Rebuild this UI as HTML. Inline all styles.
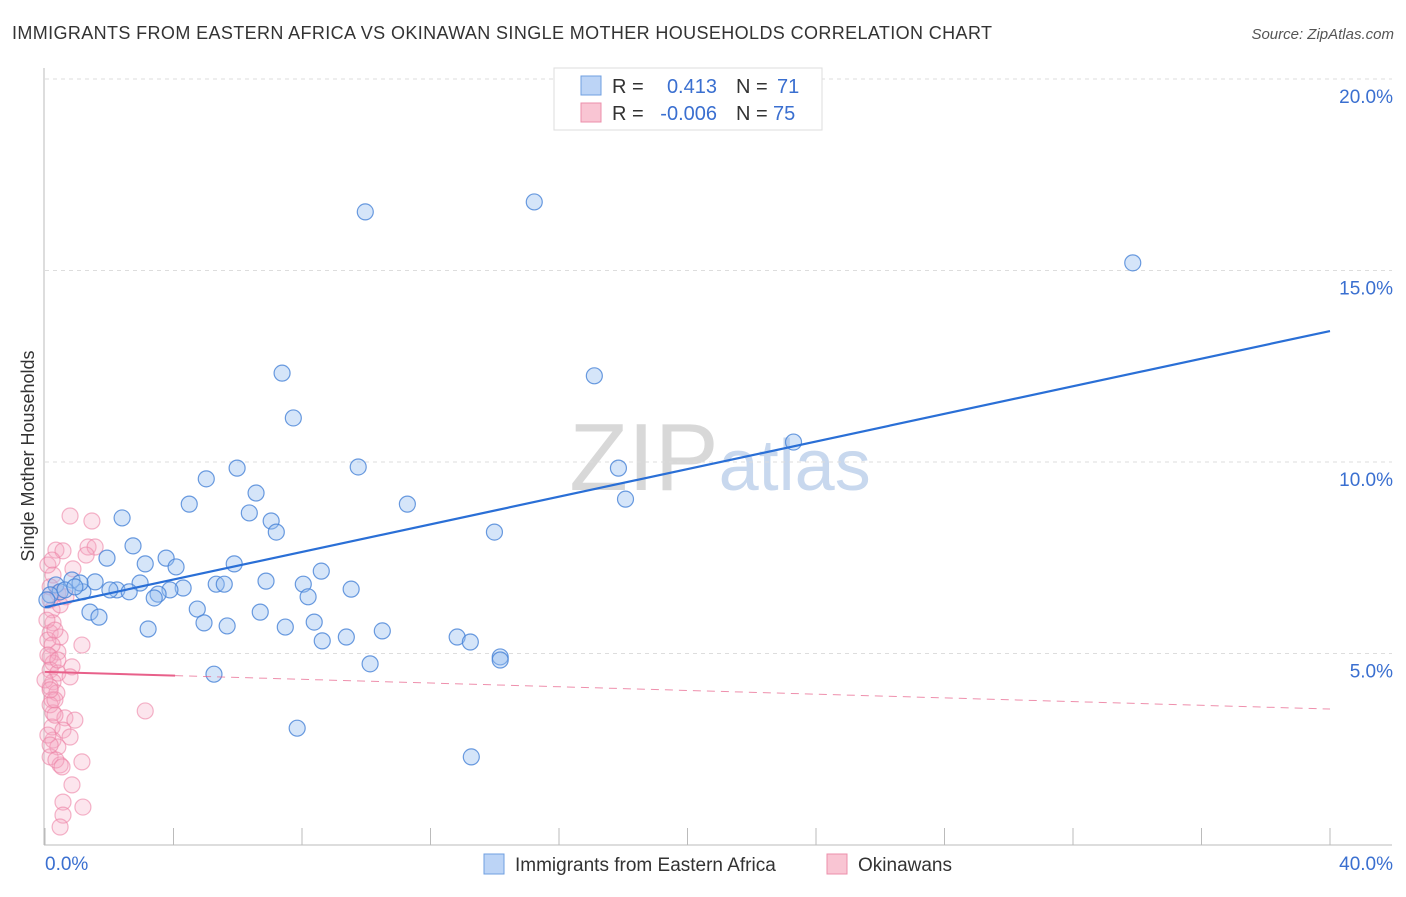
<!DOCTYPE html>
<html><head><meta charset="utf-8"><style>
body{margin:0;background:#fff;font-family:"Liberation Sans",sans-serif;}
svg text{font-family:"Liberation Sans",sans-serif;}
</style></head><body>
<svg width="1406" height="892" xmlns="http://www.w3.org/2000/svg" id="chart">
<text x="12" y="39" font-size="18" fill="#333" textLength="980" lengthAdjust="spacing">IMMIGRANTS FROM EASTERN AFRICA VS OKINAWAN SINGLE MOTHER HOUSEHOLDS CORRELATION CHART</text>
<text x="1394" y="39" font-size="15" fill="#555" font-style="italic" text-anchor="end">Source: ZipAtlas.com</text>
<text x="720" y="490" font-size="96" text-anchor="middle" font-family="Liberation Serif"><tspan fill="#d8d8d8">ZIP</tspan><tspan fill="#c8d8ee" font-family="Liberation Sans" font-size="72">atlas</tspan></text>
<text transform="translate(34,456) rotate(-90)" font-size="18" fill="#333" text-anchor="middle">Single Mother Households</text>
<g id="grid"></g><g id="axes"></g><g id="pink"></g><g id="blue"></g><g id="trends"></g>
<g>
<rect x="554" y="68" width="268" height="62" fill="#fff" stroke="#ddd"/>
<rect x="581" y="76" width="20" height="19" fill="#bcd4f6" stroke="#6f9fe0"/>
<rect x="581" y="103" width="20" height="19" fill="#f9c5d3" stroke="#ec8fab"/>
<text x="612" y="93" font-size="20" fill="#333">R =</text><text x="717" y="93" font-size="20" fill="#3a6fd0" text-anchor="end">0.413</text>
<text x="736" y="93" font-size="20" fill="#333">N =</text><text x="777" y="93" font-size="20" fill="#3a6fd0">71</text>
<text x="612" y="120" font-size="20" fill="#333">R =</text><text x="717" y="120" font-size="20" fill="#3a6fd0" text-anchor="end">-0.006</text>
<text x="736" y="120" font-size="20" fill="#333">N =</text><text x="773" y="120" font-size="20" fill="#3a6fd0">75</text>
</g>
<g>
<rect x="484" y="854" width="20" height="20" fill="#bcd4f6" stroke="#6f9fe0"/>
<text x="515" y="871" font-size="19" fill="#333">Immigrants from Eastern Africa</text>
<rect x="827" y="854" width="20" height="20" fill="#f9c5d3" stroke="#ec8fab"/>
<text x="858" y="871" font-size="19" fill="#333">Okinawans</text>
</g>
</svg>
<script>
const yTicks=[5,10,15,20];
const yTickLabels=["5.0%","10.0%","15.0%","20.0%"];
const xTicks=[0,4,8,12,16,20,24,28,32,36,40];
const blueX=[9.97,15.23,33.86,7.38,17.10,7.73,23.30,5.98,9.75,17.85,5.02,6.57,4.49,11.28,18.07,6.36,2.40,7.04,7.20,13.99,2.74,1.93,3.77,3.12,4.08,5.89,8.60,0.84,1.56,0.34,2.96,5.33,5.58,6.88,8.04,9.53,2.24,2.62,1.18,4.30,3.89,3.52,3.40,8.19,0.47,0.16,1.40,1.68,4.74,6.70,3.21,4.95,5.67,7.48,8.38,8.63,9.38,10.50,12.83,13.24,14.17,14.17,10.12,5.26,7.85,13.27,0.62,0.06,1.09,0.93,2.02];
const blueY=[16.53,16.79,15.20,12.32,12.25,11.15,10.52,9.84,9.87,9.84,9.56,9.19,8.90,8.90,9.03,8.67,8.54,8.46,8.17,8.17,7.81,7.49,7.49,7.34,7.26,7.34,7.15,6.92,6.87,6.79,6.84,6.81,6.81,6.89,6.81,6.68,6.66,6.61,6.61,6.71,6.66,6.55,6.45,6.48,6.61,6.53,6.08,5.95,6.16,6.08,5.64,5.80,5.72,5.69,5.82,5.33,5.43,5.59,5.43,5.30,4.91,4.83,4.73,4.46,3.05,2.30,6.66,6.40,6.84,6.74,6.66];
const pinkX=[0.78,1.46,0.34,0.56,1.34,1.56,1.28,0.87,0.25,0.16,0.40,0.22,0.25,0.16,0.47,1.15,0.40,0.16,0.25,0.84,0.16,0.40,0.78,0.25,0.16,0.37,0.22,3.12,0.25,0.62,0.93,0.22,0.56,0.78,0.25,0.40,0.16,0.47,1.15,0.84,0.56,1.18,0.56,0.47,0.09,0.16,0.09,0.22,0.16,0.31,0.09,0.16,0.34,0.53,0.31,0.09,0.40,0.00,0.16,0.06,0.31,0.47,0.22,0.65];
const pinkY=[8.59,8.46,7.70,7.68,7.78,7.78,7.57,7.21,7.05,6.74,6.58,6.14,5.80,5.54,5.43,5.22,5.04,4.91,4.75,4.65,4.57,4.49,4.39,4.26,4.13,3.97,3.79,3.50,3.45,3.32,3.26,3.08,3.00,2.82,2.74,2.56,2.30,2.09,2.17,1.57,1.12,0.99,0.78,0.47,7.31,6.40,5.35,5.22,3.66,3.39,2.87,2.61,2.22,2.04,3.79,4.96,4.83,4.31,4.05,5.87,5.61,6.27,7.44,6.48];
const blueTrend=[6.21,13.42];
const pinkTrend=[4.52,3.55];
const X0=45,X1=1330,Y0=845,PPY=38.3;
const sx=v=>X0+v/40*(X1-X0), sy=v=>Y0-v*PPY;
const NS="http://www.w3.org/2000/svg";
function mk(t,a,p){const e=document.createElementNS(NS,t);for(const k in a)e.setAttribute(k,a[k]);document.getElementById(p).appendChild(e);return e;}
yTicks.forEach((v,i)=>{
 const l=mk('line',{x1:X0,x2:1392,y1:sy(v),y2:sy(v),stroke:'#ddd','stroke-dasharray':'4,4'},'grid');
 
 
 const t=mk('text',{x:1393,y:sy(v)+24,'font-size':19,fill:'#3a6fd0','text-anchor':'end'},'grid');
 t.textContent=yTickLabels[i];
 
 
});
const ax=mk('line',{x1:44,x2:44,y1:68,y2:Y0,stroke:'#bbb'},'axes');


const bx=mk('line',{x1:44,x2:1392,y1:Y0,y2:Y0,stroke:'#bbb'},'axes');


xTicks.forEach(v=>{
 const l=mk('line',{x1:sx(v),x2:sx(v),y1:828,y2:Y0,stroke:'#bbb'},'axes');
 
 
});
const xl0=mk('text',{x:45,y:870,'font-size':19,fill:'#3a6fd0'},'axes');xl0.textContent='0.0%';


const xl1=mk('text',{x:1393,y:870,'font-size':19,fill:'#3a6fd0','text-anchor':'end'},'axes');xl1.textContent='40.0%';


pinkX.forEach((v,i)=>{
 const c=mk('circle',{cx:sx(v),cy:sy(pinkY[i]),r:8,fill:'rgba(246,170,195,0.3)',stroke:'rgba(236,130,165,0.6)','stroke-width':1.2},'pink');
 
 
});
blueX.forEach((v,i)=>{
 const c=mk('circle',{cx:sx(v),cy:sy(blueY[i]),r:8,fill:'rgba(150,190,240,0.4)',stroke:'rgba(70,130,215,0.8)','stroke-width':1.2},'blue');
 
 
});
const bt=mk('line',{x1:sx(0),y1:sy(blueTrend[0]),x2:sx(40),y2:sy(blueTrend[1]),stroke:'#2a6fd6','stroke-width':2.2},'trends');


const pv=x=>pinkTrend[0]+(pinkTrend[1]-pinkTrend[0])*x/40;
const pt=mk('line',{x1:sx(0),y1:sy(pv(0)),x2:sx(4.05),y2:sy(pv(4.05)),stroke:'#e8608a','stroke-width':2},'trends');


const pd=mk('line',{x1:sx(4.05),y1:sy(pv(4.05)),x2:sx(40),y2:sy(pv(40)),stroke:'#e8608a','stroke-width':1,'stroke-dasharray':'8,6',opacity:0.7},'trends');


</script>
</body></html>
